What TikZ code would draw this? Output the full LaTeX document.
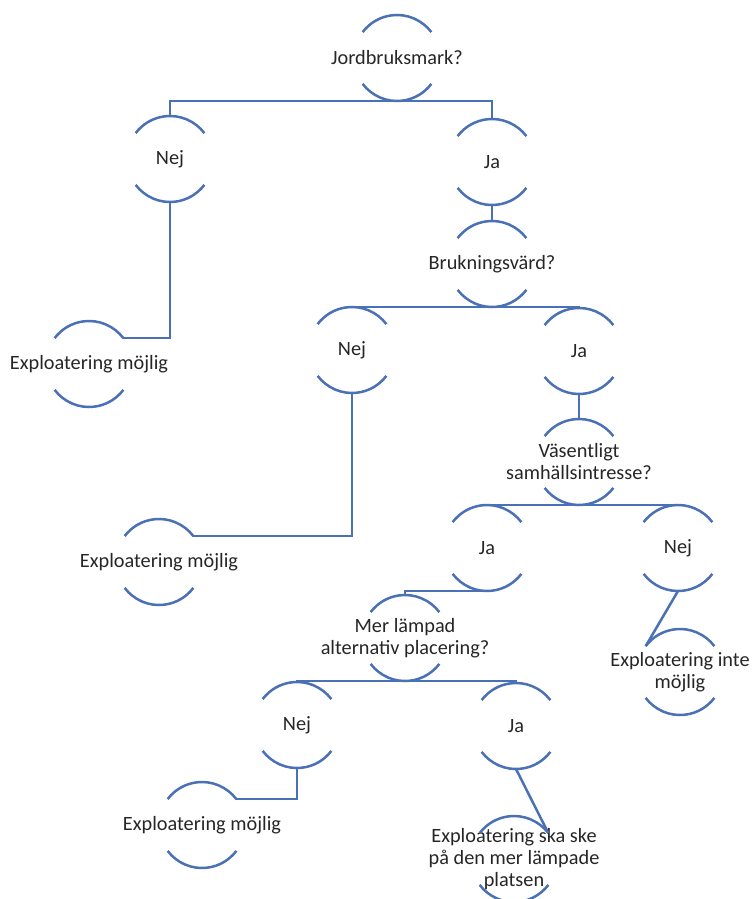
\documentclass[tikz,border=0pt]{standalone}
\usepackage{fontspec}
\setmainfont{Carlito}
\usetikzlibrary{positioning}
\definecolor{treeblue}{HTML}{4A70B5}

\begin{document}
\begin{tikzpicture}[
  x=1pt, y=-1pt,
  ring/.style={circle, minimum size=86pt, inner sep=0pt, outer sep=0pt},
  txt/.style={align=center, text=black!85, inner sep=0pt,
    font=\fontsize{20.3}{22}\selectfont},
  arcline/.style={draw=treeblue, line width=2.5pt},
  link/.style={draw=treeblue, line width=2.5pt}]
  \useasboundingbox (0,0) rectangle (752,899);
  % questions
  \node[ring, label={[txt]center:Jordbruksmark?}] (q1) at (397,58) {};
  \node[ring, label={[txt]center:Brukningsvärd?}] (q2) at (492,264) {};
  \node[ring, label={[txt]center:{Väsentligt\\samhällsintresse?}}] (q3) at (579,462) {};
  \node[ring, label={[txt]center:{Mer lämpad\\alternativ placering?}}] (q4) at (405,638) {};
  % answers
  \node[ring, label={[txt]center:Nej}] (n1) at (170,159) {};
  \node[ring, label={[txt]center:Ja}] (j1) at (492,162) {};
  \node[ring, label={[txt]center:Nej}] (n2) at (352,350) {};
  \node[ring, label={[txt]center:Ja}] (j2) at (579,351) {};
  \node[ring, label={[txt]center:Ja}] (j3) at (487,548) {};
  \node[ring, label={[txt]center:Nej}] (n3) at (678,548) {};
  \node[ring, label={[txt]center:Nej}] (n4) at (297,725) {};
  \node[ring, label={[txt]center:Ja}] (j4) at (516,726) {};
  % outcomes
  \node[ring, label={[txt]center:Exploatering möjlig}] (e1) at (89,364) {};
  \node[ring, label={[txt]center:Exploatering möjlig}] (e2) at (159,562) {};
  \node[ring, label={[txt]center:{Exploatering inte\\möjlig}}] (e3) at (680,672) {};
  \node[ring, label={[txt]center:Exploatering möjlig}] (e4) at (202,825) {};
  \node[ring, label={[txt]center:{Exploatering ska ske\\på den mer lämpade\\platsen}}] (e5) at (514,859) {};
  % arcs
  \foreach \n in {q1,q2,q3,q4,n1,j1,n2,j2,j3,n3,n4,j4,e1,e2,e3,e4,e5} {
    \draw[arcline] (\n.37) arc[start angle=37, end angle=143, radius=43pt];
    \draw[arcline] (\n.217) arc[start angle=217, end angle=323, radius=43pt];
  }
  % connectors
  \draw[link] (n1.north) |- (q1.south) -| (j1.north);
  \draw[link] (j1.south) -- (q2.north);
  \draw[link] (n2.north) |- (q2.south) -| (j2.north);
  \draw[link] (n1.south) |- (e1.37);
  \draw[link] (n2.south) |- (e2.37);
  \draw[link] (j2.south) -- (q3.north);
  \draw[link] (j3.north) |- (q3.south) -| (n3.north);
  \draw[link] (n3.south) -- (e3.143);
  \draw[link] (j3.south) -| (q4.north);
  \draw[link] (n4.north) |- (q4.south) -| (j4.north);
  \draw[link] (n4.south) |- (e4.37);
  \draw[link] (j4.south) -- (e5.37);
\end{tikzpicture}
\end{document}
